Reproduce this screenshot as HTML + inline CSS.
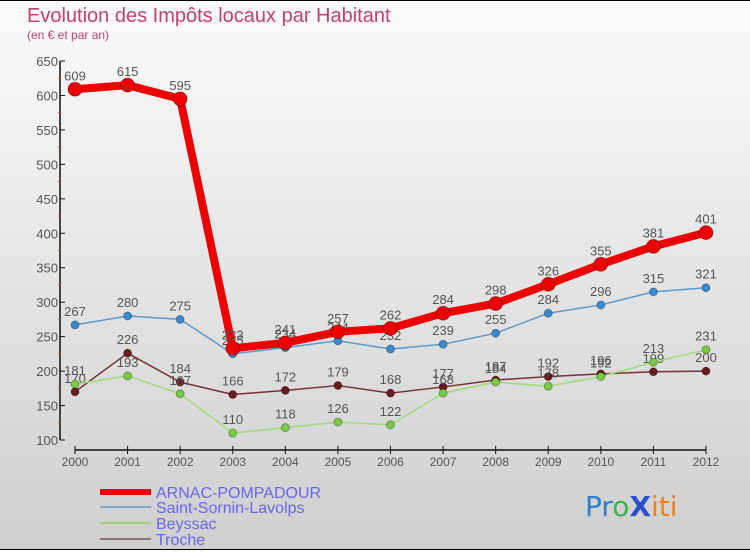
<!DOCTYPE html>
<html><head><meta charset="utf-8"><style>
body{margin:0;width:750px;height:550px;overflow:hidden;font-family:"Liberation Sans",sans-serif}
</style></head><body>
<svg id="c" width="750" height="550" xmlns="http://www.w3.org/2000/svg">
<defs><linearGradient id="bg" x1="0" y1="0" x2="0" y2="1"><stop offset="0" stop-color="#fbfbfb"/><stop offset="1" stop-color="#cfcfcf"/></linearGradient></defs>
<rect width="750" height="550" fill="url(#bg)"/>
<rect x="0" y="0" width="750" height="1" fill="#000"/><rect x="0" y="549" width="750" height="1" fill="#000"/>
<text x="27" y="22" font-size="20" fill="#c8406a">Evolution des Impôts locaux par Habitant</text>
<text x="27" y="39" font-size="12" fill="#c8406a">(en € et par an)</text>
<g id="axes"></g><g id="series"></g>
<g>
<line x1="100" y1="492" x2="151" y2="492" stroke="#e00" stroke-width="6"/>
<text x="156" y="498" font-size="16" fill="#6666ee">ARNAC-POMPADOUR</text>
<line x1="100" y1="507" x2="151" y2="507" stroke="#7aaad0" stroke-width="2"/>
<text x="156" y="513" font-size="16" fill="#6666ee">Saint-Sornin-Lavolps</text>
<line x1="100" y1="523" x2="151" y2="523" stroke="#99d07a" stroke-width="2"/>
<text x="156" y="529" font-size="16" fill="#6666ee">Beyssac</text>
<line x1="100" y1="539" x2="151" y2="539" stroke="#997070" stroke-width="2"/>
<text x="156" y="545" font-size="16" fill="#6666ee">Troche</text>
</g>
<g font-size="28" font-family="DejaVu Sans, sans-serif">
<text x="585" y="516"><tspan fill="#2a7fd0">Pr</tspan><tspan fill="#3cb44a">o</tspan><tspan fill="#2a50d0" font-weight="bold">X</tspan><tspan fill="#f08020">iti</tspan></text>
</g>
</svg>
<script>
const years=[2000,2001,2002,2003,2004,2005,2006,2007,2008,2009,2010,2011,2012];
const arnac=[609,615,595,233,241,257,262,284,298,326,355,381,401];
const sornin=[267,280,275,225,234,244,232,239,255,284,296,315,321];
const beyssac=[181,193,167,110,118,126,122,168,184,178,192,213,231];
const troche=[170,226,184,166,172,179,168,177,187,192,196,199,200];
const yTicks=[100,150,200,250,300,350,400,450,500,550,600,650];
const NS="http://www.w3.org/2000/svg";
const X=i=>75+i*(706-75)/12;
const Y=v=>440-(v-100)*(440-61)/550;
function mk(tag,attrs,parent){const e=document.createElementNS(NS,tag);for(const k in attrs)e.setAttribute(k,attrs[k]);parent.appendChild(e);return e;}
const ax=document.getElementById('axes');
let e=mk('line',{x1:60,y1:Y(650),x2:60,y2:440,stroke:'#111','stroke-width':1.5},ax);


e=mk('line',{x1:X(0),y1:450,x2:X(12),y2:450,stroke:'#111','stroke-width':1.5},ax);


yTicks.forEach(t=>{
 mk('line',{x1:60,y1:Y(t),x2:65,y2:Y(t),stroke:'#111'},ax);
 if(t<650)mk('line',{x1:58,y1:Y(t+25),x2:61,y2:Y(t+25),stroke:'#e33'},ax);
 const tx=mk('text',{x:58,y:Y(t)+5,'text-anchor':'end','font-size':13,fill:'#555'},ax);tx.textContent=t;
 
 
});
years.forEach((yr,i)=>{
 mk('line',{x1:X(i),y1:446,x2:X(i),y2:454,stroke:'#111'},ax);
 const tx=mk('text',{x:X(i),y:466,'text-anchor':'middle','font-size':12,fill:'#555'},ax);tx.textContent=yr;
 
 
});
const sg=document.getElementById('series');
function draw(vals,color,dot,sw,r,name){
 const g=mk('g',{},sg);
 
 
 mk('polyline',{points:vals.map((v,i)=>X(i)+','+Y(v)).join(' '),fill:'none',stroke:color,'stroke-width':sw,'stroke-linejoin':'round'},g);
 vals.forEach((v,i)=>{
  const c=mk('circle',{cx:X(i),cy:Y(v),r:r,fill:dot,stroke:'rgba(0,0,0,0.3)'},g);
  
  
  const t=mk('text',{x:X(i),y:Y(v)-9,'text-anchor':'middle','font-size':13,fill:'#555'},g);t.textContent=v;
 });
}
draw(troche,'#7a3030','#6a1a1a',1.5,4,'series-troche');
draw(beyssac,'#99dd77','#77cc44',1.5,4,'series-beyssac');
draw(sornin,'#5a9ad0','#3a8ad0',1.5,4,'series-saint-sornin');
draw(arnac,'#ee0000','#ee0000',8,7,'series-arnac');
</script>
</body></html>
